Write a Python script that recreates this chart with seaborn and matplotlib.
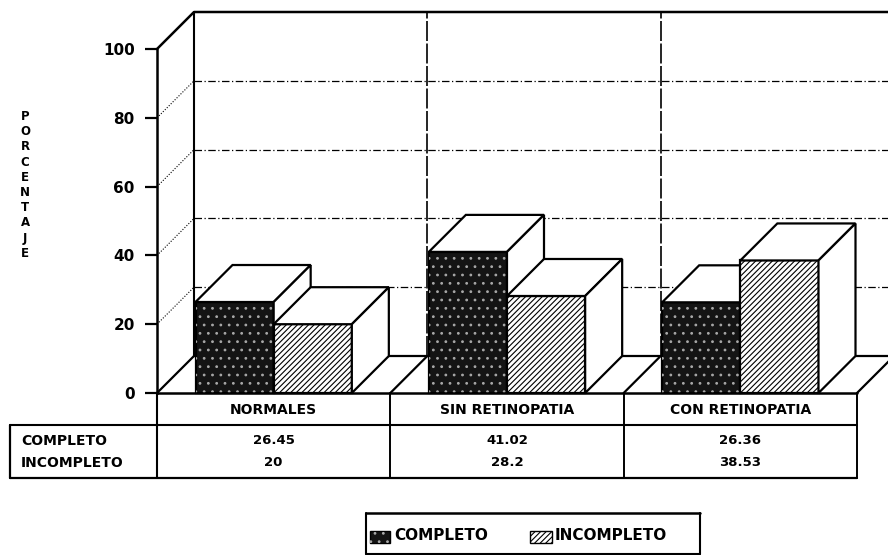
import matplotlib
matplotlib.use("Agg")
import matplotlib.pyplot as plt
import matplotlib.transforms as mtransforms
from matplotlib.patches import Polygon, Rectangle
from matplotlib.lines import Line2D
import pandas as pd
import seaborn as sns

# ---- data -------------------------------------------------------------
grupos = ["NORMALES", "SIN RETINOPATIA", "CON RETINOPATIA"]
series = ["COMPLETO", "INCOMPLETO"]
completo = [26.45, 41.02, 26.36]
incompleto = [20, 28.2, 38.53]
yticks = [0, 20, 40, 60, 80, 100]
ylabel = "PORCENTAJE"

# ---- style ------------------------------------------------------------
sns.set_theme(style="white")
plt.rcParams["font.family"] = ["DejaVu Sans"]
plt.rcParams["font.weight"] = "bold"
plt.rcParams["text.color"] = "black"
plt.rcParams["hatch.linewidth"] = 0.8

W, H = 888, 555
fig = plt.figure(figsize=(W / 100, H / 100), dpi=100)
fig.patch.set_facecolor("white")


def fx(px):
    return px / W


def fy(py):
    return 1 - py / H


def pline(xs, ys, **kw):
    kw.setdefault("color", "black")
    kw.setdefault("lw", 1.5)
    fig.add_artist(Line2D([fx(x) for x in xs], [fy(y) for y in ys],
                          transform=fig.transFigure, **kw))


# front plane of the plot box (pixels)
XL, XR, Y0, Y100 = 157, 857, 393, 49
ax = fig.add_axes([fx(XL), fy(Y0), (XR - XL) / W, (Y0 - Y100) / H])
ax.patch.set_alpha(0)

df = pd.DataFrame({
    "grupo": grupos * 2,
    "serie": [series[0]] * len(grupos) + [series[1]] * len(grupos),
    "valor": completo + incompleto,
})
sns.barplot(data=df, x="grupo", y="valor", hue="serie", order=grupos,
            hue_order=series, palette=["#141414", "white"], width=0.67,
            saturation=1, edgecolor="black", linewidth=1.6, legend=False,
            errorbar=None, ax=ax)

ax.set_xlim(-0.5, len(grupos) - 0.5)
ax.set_ylim(0, 100)

# depth of the pseudo-3D box in data units
DEPTH = 37
dx = DEPTH / ((XR - XL) / len(grupos))
dy = DEPTH / ((Y0 - Y100) / 100)
xa, xb = -0.5, len(grupos) - 0.5
xfar = xb + 0.3

# back wall, side wall and floor
for v in yticks[1:-1]:
    ax.plot([xa + dx, xfar], [v + dy, v + dy], color="black", lw=0.9,
            ls=(0, (6, 2, 1, 2)), clip_on=False, zorder=1)
    ax.plot([xa, xa + dx], [v, v + dy], color="black", lw=0.8,
            ls=(0, (1, 1.5)), clip_on=False, zorder=1)
for k in range(len(grupos)):
    ax.plot([xa + k + dx] * 2, [dy, 100 + dy], color="black",
            lw=1.5 if k == 0 else 1.2, ls=(0, (12, 1.5)) if k else "-",
            clip_on=False, zorder=1)
ax.plot([xa, xa + dx, xfar], [100, 100 + dy, 100 + dy], color="black",
        lw=1.8, clip_on=False, zorder=1)
ax.plot([xa + dx, xfar], [dy, dy], color="black", lw=1.6, clip_on=False,
        zorder=1)
for k in range(len(grupos) + 1):
    ax.plot([xa + k, xa + k + dx], [0, dy], color="black", lw=1.6,
            clip_on=False, zorder=1)
ax.plot([xa, xb], [0, 0], color="black", lw=1.8, clip_on=False, zorder=6)

# extrude every bar: top and right-hand faces
for j, cont in enumerate(ax.containers):
    z = 3 + j
    for p in cont:
        p.set_zorder(z)
        p.set_clip_on(False)
        x0, w, h = p.get_x(), p.get_width(), p.get_height()
        if j == 0:
            ax.add_patch(Rectangle((x0, 0), w, h, fill=False, hatch="..",
                                   edgecolor="#a8a8a8", lw=0, zorder=z + 0.1,
                                   clip_on=False))
        else:
            p.set_hatch("//////")
        ax.add_patch(Polygon([(x0, h), (x0 + w, h), (x0 + w + dx, h + dy),
                              (x0 + dx, h + dy)], closed=True, fc="white",
                             ec="black", lw=1.6, zorder=z + 0.2,
                             clip_on=False))
        ax.add_patch(Polygon([(x0 + w, 0), (x0 + w + dx, dy),
                              (x0 + w + dx, h + dy), (x0 + w, h)],
                             closed=True, fc="white", ec="black", lw=1.6,
                             zorder=z + 0.2, clip_on=False))

# value axis
for s in ["top", "right", "bottom"]:
    ax.spines[s].set_visible(False)
ax.spines["left"].set_color("black")
ax.spines["left"].set_linewidth(1.8)
ax.set_yticks(yticks)
ax.set_yticklabels([str(v) for v in yticks])
ax.tick_params(axis="y", left=True, length=9, width=1.6, pad=7,
               labelsize=11, colors="black")
ax.set_xticks([])
ax.set_xlabel("")
ax.set_ylabel("")

fig.text(fx(25), fy(185), "\n".join(ylabel), ha="center", va="center",
         fontsize=8.5, fontweight="heavy", linespacing=1.22, color="black")

# data table under the plot
TOP, MID, R1, R2, BOT, LEFT = 393, 425, 441, 463, 478, 10
pline([LEFT, XR], [MID, MID], lw=1.5)
pline([LEFT, XR], [BOT, BOT], lw=1.6)
pline([LEFT, LEFT], [MID, BOT], lw=1.6)
pline([XL, XL], [TOP, BOT], lw=1.5)
colw = (XR - XL) / len(grupos)
for k in range(1, len(grupos) + 1):
    pline([XL + k * colw] * 2, [TOP, BOT], lw=1.4)

tr = mtransforms.blended_transform_factory(ax.transData, fig.transFigure)
for i, g in enumerate(grupos):
    fig.text(i, fy(410), g, transform=tr, ha="center", va="center",
             fontsize=10, fontweight="heavy", color="black")
    fig.text(i, fy(R1), f"{completo[i]:g}", transform=tr, ha="center",
             va="center", fontsize=9.5, fontweight="heavy", color="black")
    fig.text(i, fy(R2), f"{incompleto[i]:g}", transform=tr, ha="center",
             va="center", fontsize=9.5, fontweight="heavy", color="black")
fig.text(fx(21), fy(R1), series[0], ha="left", va="center", fontsize=10,
         fontweight="heavy", color="black")
fig.text(fx(21), fy(R2), series[1], ha="left", va="center", fontsize=10,
         fontweight="heavy", color="black")

# legend
pline([366, 700], [513, 513], lw=1.8)
pline([366, 366], [513, 554], lw=1.5)
pline([700, 700], [513, 554], lw=1.5)
pline([366, 700], [554, 554], lw=1.5)
sw1 = Rectangle((fx(370), fy(543)), 20 / W, 12 / H, transform=fig.transFigure,
                fc="#141414", ec="black", lw=1)
sw1h = Rectangle((fx(370), fy(543)), 20 / W, 12 / H,
                 transform=fig.transFigure, fill=False, hatch="..",
                 ec="#a8a8a8", lw=0)
sw2 = Rectangle((fx(530), fy(543)), 22 / W, 12 / H, transform=fig.transFigure,
                fc="white", ec="black", lw=1, hatch="//////")
for a in (sw1, sw1h, sw2):
    fig.add_artist(a)
fig.text(fx(394), fy(536), series[0], ha="left", va="center", fontsize=11,
         fontweight="heavy", color="black")
fig.text(fx(555), fy(536), series[1], ha="left", va="center", fontsize=11,
         fontweight="heavy", color="black")

fig.savefig("out.png", dpi=100, facecolor="white")
